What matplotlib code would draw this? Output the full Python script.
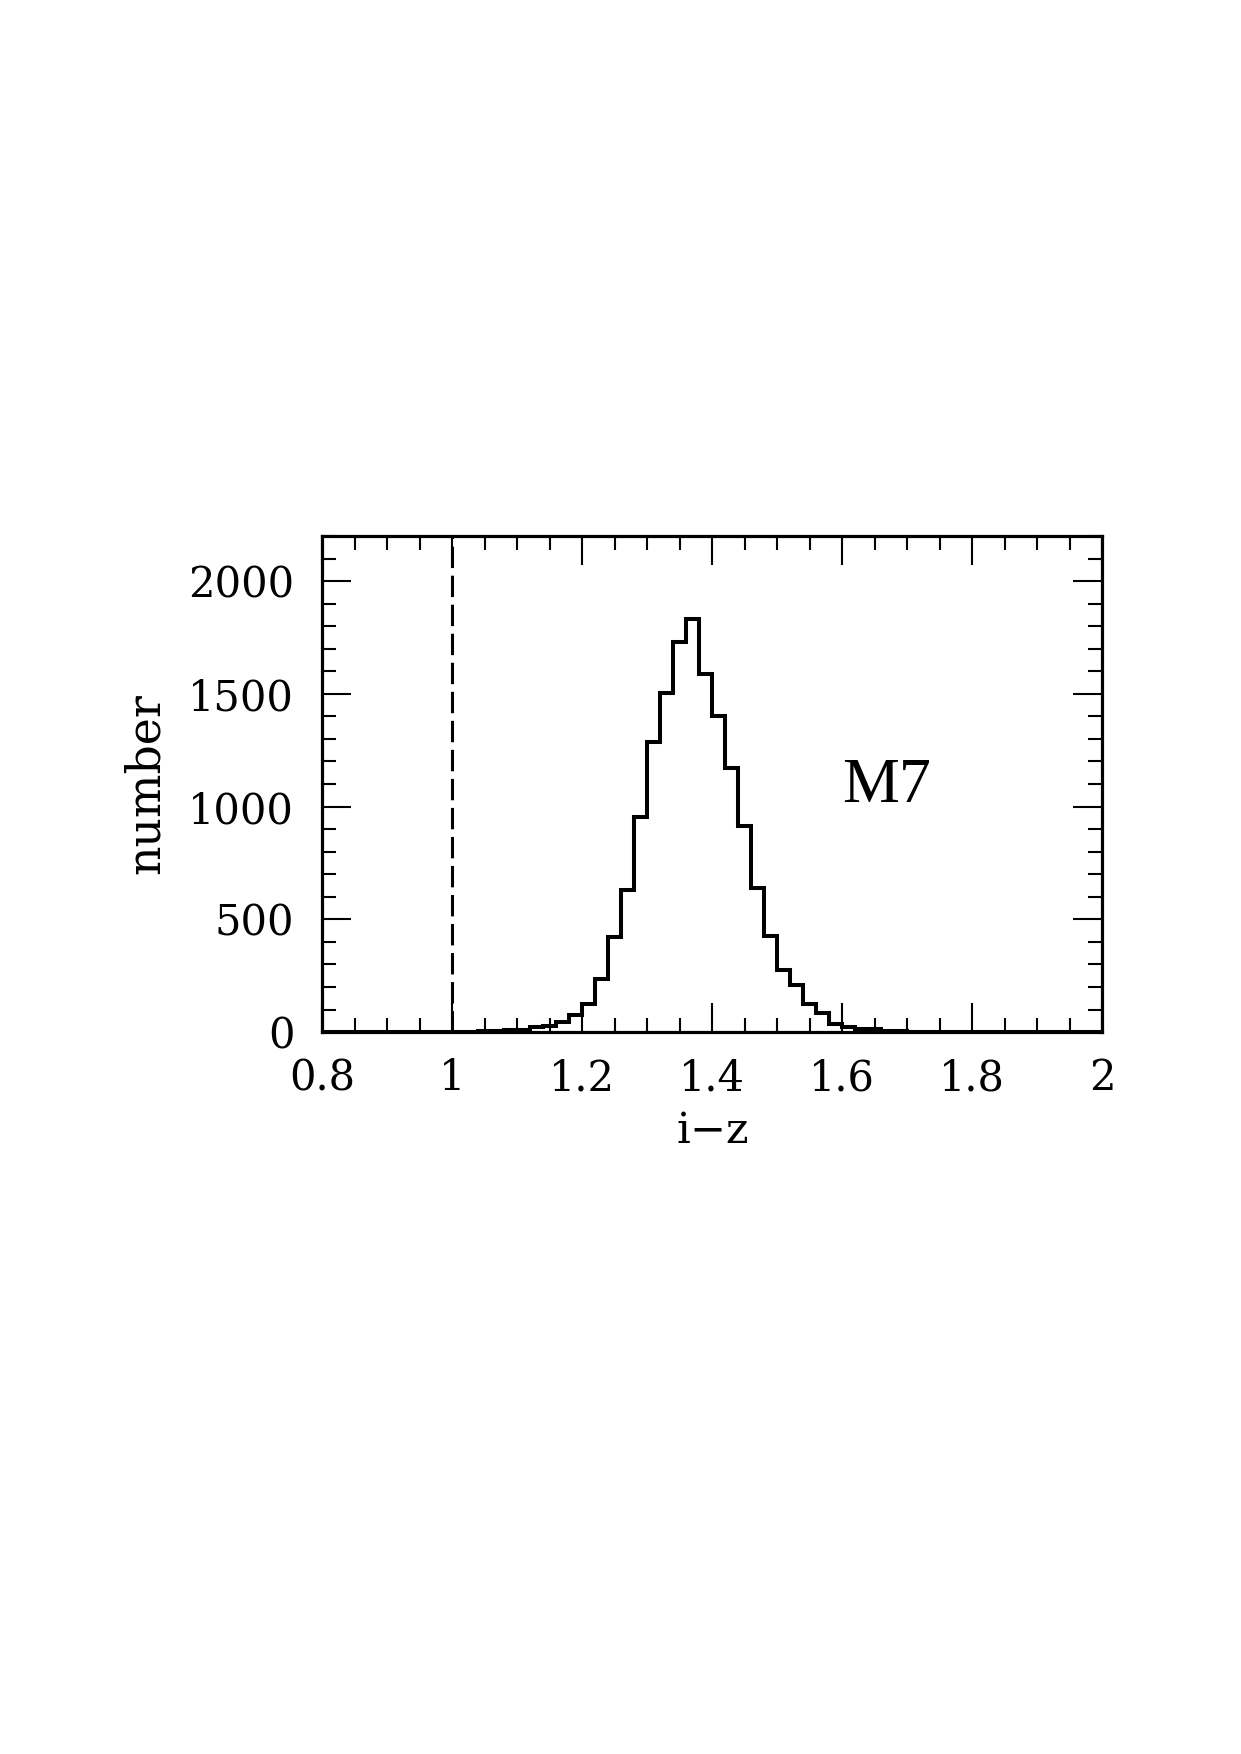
import numpy as np
import matplotlib
matplotlib.use('Agg')
import matplotlib.pyplot as plt
from matplotlib.ticker import MultipleLocator

# histogram of i-z colour, bins of 0.02 from 0.8 to 2.0
bin_edges = np.round(np.arange(0.8, 2.0001, 0.02), 2)
counts = [0, 0, 0, 0, 0, 0, 0, 0, 0, 0,            # 0.80 - 0.98
          2, 2, 4, 5, 8, 10, 22, 29, 44, 75,        # 1.00 - 1.18
          124, 235, 420, 632, 956, 1286, 1505, 1732, 1831, 1589,   # 1.20 - 1.38
          1400, 1171, 912, 639, 428, 277, 207, 123, 84, 36,        # 1.40 - 1.58
          24, 13, 12, 5, 3, 2, 2, 1, 1, 1,          # 1.60 - 1.78
          1, 2, 2, 1, 0, 0, 0, 0, 0, 0]             # 1.80 - 1.98
cut_value = 1.0
panel_label = 'M7'
xticks = [0.8, 1.0, 1.2, 1.4, 1.6, 1.8, 2.0]
xticklabels = ['0.8', '1', '1.2', '1.4', '1.6', '1.8', '2']
yticks = [0, 500, 1000, 1500, 2000]

plt.rcParams['font.family'] = ['DejaVu Serif']
fig = plt.figure(figsize=(12.41, 17.54), dpi=100)
ax = fig.add_axes([0.2595, 0.4116, 0.6285, 0.2828])

ax.stairs(counts, bin_edges, color='black', linewidth=2.9)
ax.axvline(cut_value, color='black', linewidth=2.2, linestyle=(0, (7, 2.5)))

ax.set_xlim(0.8, 2.0)
ax.set_ylim(0, 2200)
ax.set_xticks(xticks)
ax.set_xticklabels(xticklabels)
ax.set_yticks(yticks)
ax.xaxis.set_minor_locator(MultipleLocator(0.05))
ax.yaxis.set_minor_locator(MultipleLocator(100))
ax.tick_params(which='both', direction='in', top=True, right=True, labelsize=30, width=1.5)
ax.tick_params(which='major', length=21)
ax.tick_params(axis='x', which='major', pad=18)
ax.tick_params(axis='y', which='major', pad=20)
ax.tick_params(which='minor', length=10)
for s in ax.spines.values():
    s.set_linewidth(2.3)

ax.set_xlabel('i$-$z', fontsize=31, labelpad=8)
ax.set_ylabel('number', fontsize=33, labelpad=14)
ax.text(1.669, 1086, panel_label, fontsize=46, family='Liberation Serif',
        ha='center', va='center')

fig.savefig('out.png', dpi=100, facecolor='white')
